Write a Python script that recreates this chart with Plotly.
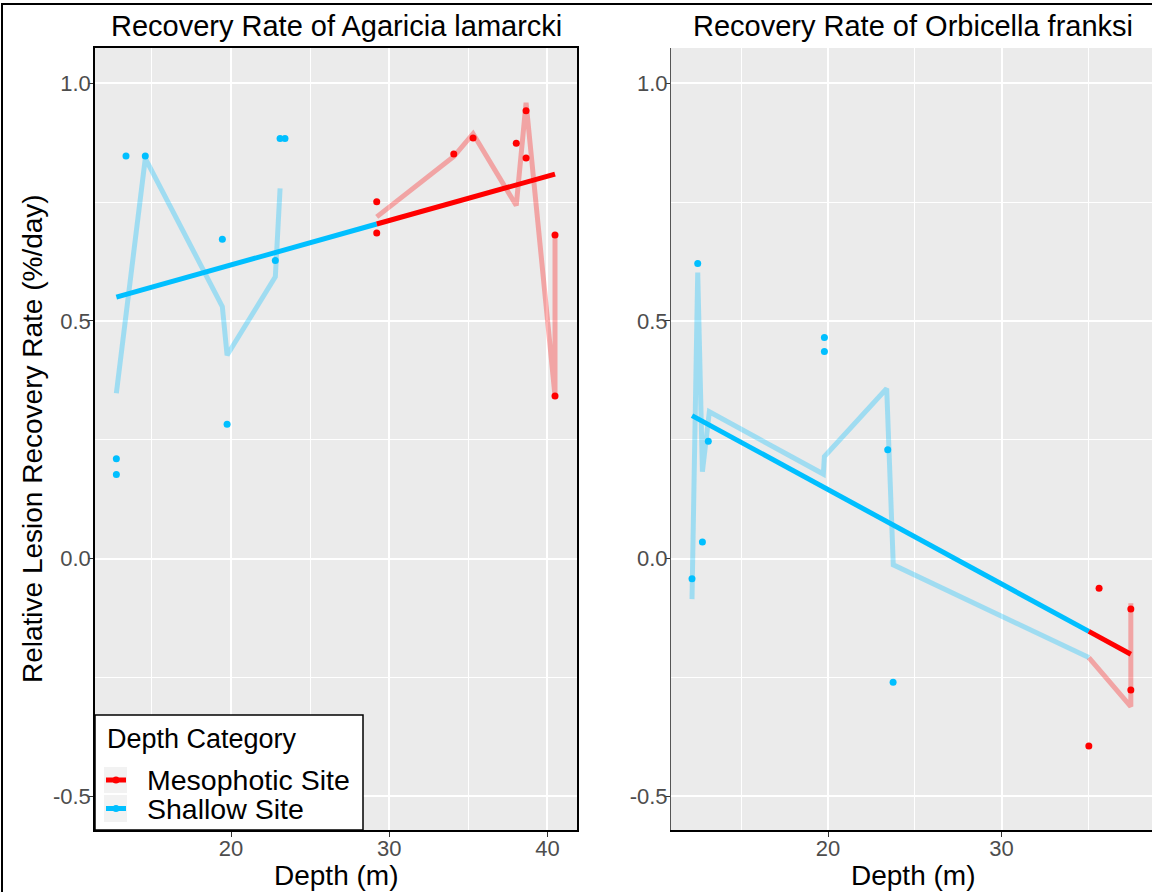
import plotly.graph_objects as go

# ---------------- data ----------------
# Agaricia lamarcki
AL_shallow_depth = [13.36, 14.58, 23.10, 23.41, 19.45, 22.80, 19.75, 12.75, 12.75]
AL_shallow_rate = [0.847, 0.847, 0.884, 0.884, 0.672, 0.627, 0.283, 0.210, 0.177]
AL_meso_depth = [29.21, 29.21, 34.08, 35.30, 38.03, 38.65, 38.65, 40.48, 40.48]
AL_meso_rate = [0.751, 0.685, 0.851, 0.885, 0.874, 0.942, 0.843, 0.681, 0.342]

AL_shallow_fit_depth = [12.75, 14.58, 19.45, 19.75, 22.80, 23.10]
AL_shallow_fit_rate = [0.348, 0.842, 0.530, 0.428, 0.593, 0.779]
AL_meso_fit_depth = [29.21, 34.08, 35.30, 38.03, 38.65, 40.48, 40.48]
AL_meso_fit_rate = [0.719, 0.846, 0.894, 0.743, 0.959, 0.342, 0.684]

AL_trend_shallow_depth = [12.75, 29.21]
AL_trend_shallow_rate = [0.550, 0.704]
AL_trend_meso_depth = [29.21, 40.48]
AL_trend_meso_rate = [0.704, 0.809]

# Orbicella franksi
OF_shallow_depth = [12.49, 19.79, 19.79, 13.10, 23.44, 12.76, 12.16, 23.75]
OF_shallow_rate = [0.621, 0.465, 0.436, 0.247, 0.229, 0.035, -0.042, -0.260]
OF_meso_depth = [35.62, 37.45, 37.45, 35.03]
OF_meso_rate = [-0.062, -0.106, -0.276, -0.394]

OF_shallow_fit_depth = [12.16, 12.49, 12.76, 13.16, 19.73, 19.79, 23.38, 23.76, 35.03]
OF_shallow_fit_rate = [-0.085, 0.602, 0.183, 0.309, 0.178, 0.215, 0.358, -0.013, -0.208]
OF_meso_fit_depth = [35.03, 35.62, 37.45, 37.45]
OF_meso_fit_rate = [-0.208, -0.234, -0.311, -0.094]

OF_trend_shallow_depth = [12.16, 35.03]
OF_trend_shallow_rate = [0.301, -0.153]
OF_trend_meso_depth = [35.03, 37.45]
OF_trend_meso_rate = [-0.153, -0.201]

titles = ["Recovery Rate of Agaricia lamarcki", "Recovery Rate of Orbicella franksi"]
legend_title = "Depth Category"
legend_labels = ["Mesophotic Site", "Shallow Site"]
x_title = "Depth (m)"
y_title = "Relative Lesion Recovery Rate (%/day)"
y_ticks = [-0.5, 0.0, 0.5, 1.0]
y_ticklabels = ["-0.5", "0.0", "0.5", "1.0"]

# ---------------- styling ----------------
RED = "#FF0000"
BLUE = "#00BFFF"
RED_FADE = "rgba(255,0,0,0.30)"
BLUE_FADE = "rgba(0,191,255,0.32)"
FONT = "Liberation Sans, Arial, sans-serif"
W, H = 1152, 892


def px(x):
    return x / W


def py(y):
    return 1 - y / H


fig = go.Figure()

panels = [
    ("x", "y", AL_shallow_fit_depth, AL_shallow_fit_rate, AL_meso_fit_depth, AL_meso_fit_rate,
     AL_trend_shallow_depth, AL_trend_shallow_rate, AL_trend_meso_depth, AL_trend_meso_rate,
     AL_shallow_depth, AL_shallow_rate, AL_meso_depth, AL_meso_rate),
    ("x2", "y2", OF_shallow_fit_depth, OF_shallow_fit_rate, OF_meso_fit_depth, OF_meso_fit_rate,
     OF_trend_shallow_depth, OF_trend_shallow_rate, OF_trend_meso_depth, OF_trend_meso_rate,
     OF_shallow_depth, OF_shallow_rate, OF_meso_depth, OF_meso_rate),
]

for (xa, ya, sfd, sfr, mfd, mfr, tsd, tsr, tmd, tmr, sd, sr, md, mr) in panels:
    fig.add_trace(go.Scatter(x=sfd, y=sfr, mode="lines", xaxis=xa, yaxis=ya,
                             line=dict(color=BLUE_FADE, width=5), showlegend=False, hoverinfo="skip"))
    fig.add_trace(go.Scatter(x=mfd, y=mfr, mode="lines", xaxis=xa, yaxis=ya,
                             line=dict(color=RED_FADE, width=5), showlegend=False, hoverinfo="skip"))
    fig.add_trace(go.Scatter(x=tsd, y=tsr, mode="lines", xaxis=xa, yaxis=ya,
                             line=dict(color=BLUE, width=5), showlegend=False))
    fig.add_trace(go.Scatter(x=tmd, y=tmr, mode="lines", xaxis=xa, yaxis=ya,
                             line=dict(color=RED, width=5), showlegend=False))
    fig.add_trace(go.Scatter(x=sd, y=sr, mode="markers", xaxis=xa, yaxis=ya,
                             marker=dict(color=BLUE, size=7), showlegend=False))
    fig.add_trace(go.Scatter(x=md, y=mr, mode="markers", xaxis=xa, yaxis=ya,
                             marker=dict(color=RED, size=7), showlegend=False))

top_px, bot_px = 48, 830
ydom = [py(bot_px), py(top_px)]
L_left, L_right = 95, 577
R_left, R_right = 671, 1152

common_x = dict(
    dtick=10, tick0=0, ticks="outside", ticklen=5, tickwidth=1, tickcolor="#333333",
    tickfont=dict(family=FONT, size=22, color="#4D4D4D"), ticklabelstandoff=-7,
    showgrid=True, gridcolor="white", gridwidth=2, zeroline=False,
    minor=dict(dtick=5, tick0=0, showgrid=True, gridcolor="white", gridwidth=1, ticks=""),
)
common_y = dict(
    tickvals=y_ticks, ticktext=y_ticklabels, ticks="outside", ticklen=5, tickwidth=1,
    tickcolor="#333333",
    tickfont=dict(family=FONT, size=22, color="#4D4D4D"), ticklabelstandoff=-7,
    showgrid=True, gridcolor="white", gridwidth=2, zeroline=False,
    minor=dict(dtick=0.25, tick0=0, showgrid=True, gridcolor="white", gridwidth=1, ticks=""),
    range=[-0.5707, 1.0742], domain=ydom,
)

fig.update_layout(
    width=W, height=H, margin=dict(l=0, r=0, t=0, b=0),
    paper_bgcolor="white", plot_bgcolor="#EBEBEB",
    font=dict(family=FONT, color="black"),
    xaxis=dict(common_x, domain=[px(L_left), px(L_right)], range=[11.40, 41.87], anchor="y",
               showline=True, linecolor="black", linewidth=1.5, mirror=True),
    yaxis=dict(common_y, anchor="x", showline=True, linecolor="black", linewidth=1.5, mirror=True),
    xaxis2=dict(common_x, domain=[px(R_left), px(R_right)], range=[10.95, 38.67], anchor="y2",
                showline=True, linecolor="black", linewidth=1.5),
    yaxis2=dict(common_y, anchor="x2", showline=True, linecolor="#555555", linewidth=1),
    showlegend=False,
)

annotations = [
    dict(text=titles[0], x=px((L_left + L_right) / 2), y=py(26)),
    dict(text=titles[1], x=px((R_left + 1154) / 2), y=py(26)),
    dict(text=x_title, x=px((L_left + L_right) / 2), y=py(875), size=28),
    dict(text=x_title, x=px((R_left + 1154) / 2), y=py(875), size=28),
    dict(text=y_title, x=px(32), y=py(439), size=28, textangle=-90),
]
ann_out = []
for a in annotations:
    size = a.pop("size", 29)
    ann_out.append(dict(a, xref="paper", yref="paper", showarrow=False,
                        font=dict(family=FONT, size=size, color="black"),
                        xanchor="center", yanchor="middle"))

# ----- legend (drawn inside the left panel, bottom-left) -----
shapes = []
leg_x0, leg_x1, leg_y0, leg_y1 = 95, 363, 715, 830
shapes.append(dict(type="rect", xref="paper", yref="paper",
                   x0=px(leg_x0), x1=px(leg_x1), y0=py(leg_y1), y1=py(leg_y0),
                   fillcolor="white", line=dict(color="black", width=1.5), layer="above"))
ann_out.append(dict(text=legend_title, x=px(105), y=py(739), xref="paper", yref="paper",
                    showarrow=False, xanchor="left", yanchor="middle",
                    font=dict(family=FONT, size=27, color="black")))
key_colors = [RED, BLUE]
key_rows = [(767, 793), (795, 822)]
for label, col, (k0, k1) in zip(legend_labels, key_colors, key_rows):
    kc = (k0 + k1) / 2
    shapes.append(dict(type="rect", xref="paper", yref="paper",
                       x0=px(104), x1=px(127), y0=py(k1), y1=py(k0),
                       fillcolor="#F2F2F2", line=dict(width=0), layer="above"))
    shapes.append(dict(type="line", xref="paper", yref="paper",
                       x0=px(106), x1=px(126), y0=py(kc), y1=py(kc),
                       line=dict(color=col, width=5), layer="above"))
    shapes.append(dict(type="circle", xref="paper", yref="paper",
                       x0=px(112.5), x1=px(119.5), y0=py(kc + 3.5), y1=py(kc - 3.5),
                       fillcolor=col, line=dict(width=0), layer="above"))
    ann_out.append(dict(text=label, x=px(145), y=py(kc), xref="paper", yref="paper",
                        showarrow=False, xanchor="left", yanchor="middle",
                        font=dict(family=FONT, size=28.5, color="black")))

# outer frame of the figure
shapes.append(dict(type="rect", xref="paper", yref="paper",
                   x0=px(2), x1=1.05, y0=-0.05, y1=py(4),
                   line=dict(color="black", width=2), fillcolor="rgba(0,0,0,0)", layer="above"))

fig.update_layout(annotations=ann_out, shapes=shapes)

fig.write_html("out.html")
